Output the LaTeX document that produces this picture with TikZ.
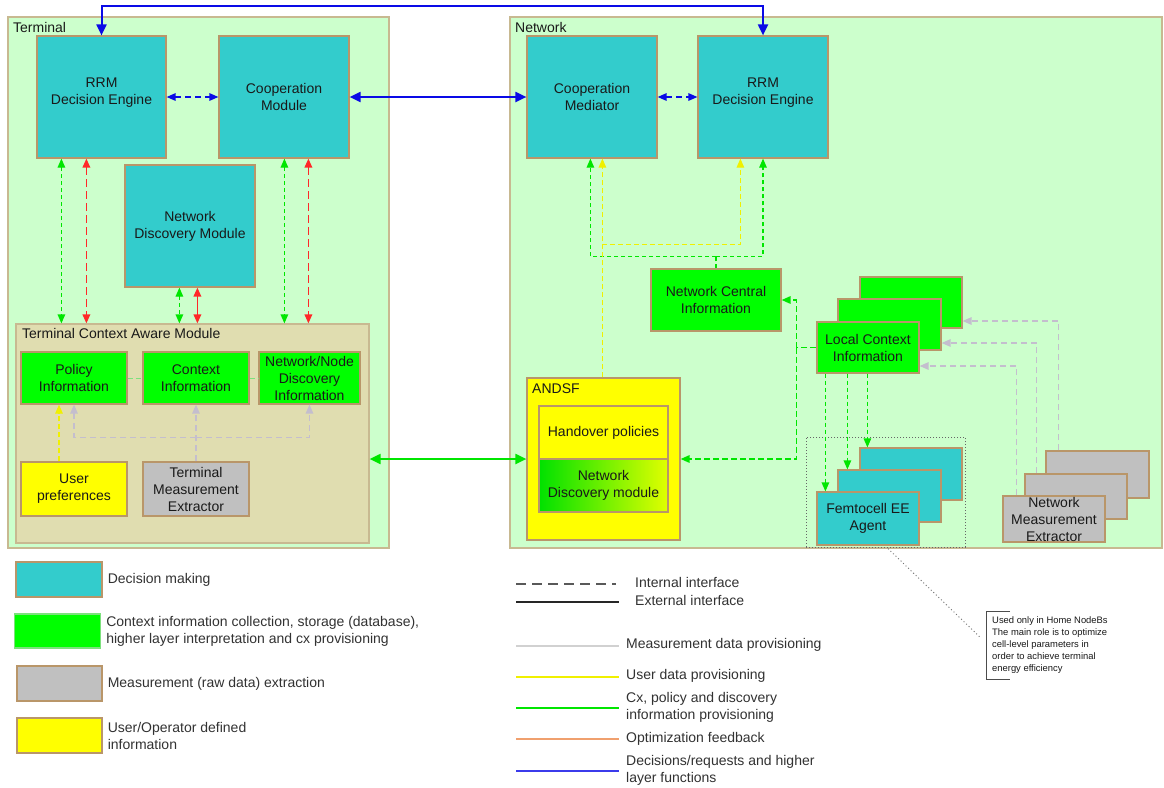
\documentclass[tikz,border=0pt]{standalone}
\usepackage{fontspec}
\setmainfont{Liberation Sans}
\usetikzlibrary{arrows.meta,calc}

\definecolor{dmcyan}{RGB}{51,204,204}
\definecolor{cxgreen}{RGB}{0,255,0}
\definecolor{msgray}{RGB}{192,192,192}
\definecolor{uyellow}{RGB}{255,255,0}
\definecolor{zonebg}{RGB}{204,255,204}
\definecolor{tcamfill}{RGB}{224,221,176}
\definecolor{edgetan}{RGB}{185,150,105}
\definecolor{zoneedge}{RGB}{200,185,145}
\definecolor{txt}{RGB}{25,25,25}
\definecolor{legtxt}{RGB}{50,50,50}
\definecolor{lblue}{RGB}{10,10,230}
\definecolor{lred}{RGB}{255,40,40}
\definecolor{lgreen}{RGB}{0,230,0}
\definecolor{lgreenpale}{RGB}{125,225,125}
\definecolor{lyellow}{RGB}{240,240,0}
\definecolor{lgray}{RGB}{196,190,206}
\definecolor{lorange}{RGB}{240,160,110}

\tikzset{
  fnt/.style={font=\fontsize{14}{17}\selectfont},
  zone/.style={draw=zoneedge, line width=1.2pt, fill=zonebg, inner sep=0pt},
  blk/.style={draw=edgetan, line width=1.2pt, align=center, inner sep=0pt, fnt, text=txt},
  dmblk/.style={blk, fill=dmcyan},
  cxblk/.style={blk, fill=cxgreen},
  msblk/.style={blk, fill=msgray},
  usblk/.style={blk, fill=uyellow},
  tag/.style={anchor=west, inner sep=0pt, fnt, text=txt, align=left},
  legtag/.style={tag, text=legtxt},
  fwd/.style={arrows={-Triangle[length=9pt,width=7.5pt]}},
  dbl/.style={arrows={Triangle[length=9pt,width=7.5pt]-Triangle[length=9pt,width=7.5pt]}},
  bigdbl/.style={arrows={Triangle[length=11pt,width=10pt]-Triangle[length=11pt,width=10pt]}},
  bsolid/.style={draw=lblue, line width=2pt},
  bdash/.style={draw=lblue, line width=1.3pt, dash pattern=on 6pt off 4pt},
  gdash/.style={draw=lgreen, line width=1.2pt, dash pattern=on 4pt off 3pt},
  gdashb/.style={draw=lgreen, line width=1.6pt, dash pattern=on 6pt off 3pt},
  pgdash/.style={draw=lgreenpale, line width=1pt, dash pattern=on 5pt off 3pt},
  rdash/.style={draw=lred, line width=1.8pt, dash pattern=on 8pt off 4pt},
  rsolid/.style={draw=lred, line width=1.8pt},
  ydash/.style={draw=lyellow, line width=1.2pt, dash pattern=on 5pt off 3pt},
  gydash/.style={draw=lgray, line width=1.3pt, dash pattern=on 6pt off 4pt},
  gsolid/.style={draw=lgreen, line width=2pt},
}

\begin{document}
\begin{tikzpicture}[x=1pt,y=-1pt]
\fill[white] (0,0) rectangle (1164,787);
\useasboundingbox (0,0) rectangle (1164,787);

% ---------------- Terminal side ----------------
\node[zone, minimum width=381pt, minimum height=531pt] (term) at (198.5,282.5) {};
\node[tag] at (13,27) {Terminal};

\node[dmblk, minimum width=129pt, minimum height=122pt] (trrm) at (101.5,97) {RRM\\Decision Engine\\[-6pt]\mbox{}};
\node[dmblk, minimum width=130pt, minimum height=122pt] (tcoop) at (284,97) {Cooperation\\Module};
\node[dmblk, minimum width=130pt, minimum height=122pt] (tndm) at (190,226) {Network\\Discovery Module};

\node[draw=zoneedge, line width=1.2pt, fill=tcamfill, minimum width=353pt, minimum height=219pt] (tcam) at (192.5,433.5) {};
\node[tag] at (22,333) {Terminal Context Aware Module};

\node[cxblk, minimum width=106pt, minimum height=52pt] (pol) at (74,378) {Policy\\Information};
\node[cxblk, minimum width=106pt, minimum height=52pt] (ctxi) at (196,378) {Context\\Information};
\node[cxblk, minimum width=101pt, minimum height=52pt] (nnd) at (309.5,378) {Network/Node\\Discovery\\Information};
\node[usblk, minimum width=106pt, minimum height=54pt] (upref) at (74,489) {User\\preferences};
\node[msblk, minimum width=106pt, minimum height=54pt] (tme) at (196,489) {Terminal\\Measurement\\Extractor};

% ---------------- Network side ----------------
\node[zone, minimum width=652pt, minimum height=531pt] (net) at (836,282.5) {};
\node[tag] at (515,27) {Network};

\node[dmblk, minimum width=130pt, minimum height=122pt] (cm) at (592,97) {Cooperation\\Mediator};
\node[dmblk, minimum width=130pt, minimum height=122pt] (nrrm) at (763,97) {RRM\\Decision Engine\\[-6pt]\mbox{}};
\node[cxblk, minimum width=130pt, minimum height=62pt] (nci) at (716,300) {Network Central\\Information};

\node[cxblk, minimum width=102pt, minimum height=51pt] (lci3) at (911,302.5) {};
\node[cxblk, minimum width=103pt, minimum height=51pt] (lci2) at (889.5,324.5) {};
\node[cxblk, minimum width=102pt, minimum height=51pt] (lci1) at (868,347.5) {Local Context\\Information};

\node[usblk, minimum width=153pt, minimum height=162pt] (andsf) at (603.5,459) {};
\node[tag] at (532,389) {ANDSF};
\node[usblk, minimum width=129pt, minimum height=53pt] (ho) at (603.5,432.5) {Handover policies};
\node[blk, left color={rgb,255:red,0;green,225;blue,0}, right color={rgb,255:red,225;green,255;blue,0}, minimum width=129pt, minimum height=53pt] (ndmod) at (603.5,485.5) {Network\\Discovery module};

\node[draw=black!60, line width=0.9pt, dash pattern=on 1pt off 2pt, minimum width=159pt, minimum height=110pt] (femzone) at (885.5,492) {};
\node[dmblk, minimum width=102pt, minimum height=52pt] (fem3) at (911,474) {};
\node[dmblk, minimum width=103pt, minimum height=52pt] (fem2) at (889.5,496) {};
\node[dmblk, minimum width=102pt, minimum height=53pt] (fem1) at (868,518.5) {Femtocell EE\\Agent};

\node[msblk, minimum width=103pt, minimum height=47pt] (nme3) at (1097.5,474.5) {};
\node[msblk, minimum width=102pt, minimum height=45pt] (nme2) at (1076,496.5) {};
\node[msblk, minimum width=102pt, minimum height=46pt] (nme1) at (1054,519) {};
\node[blk, draw=none, fill=none] at (nme1.center) {Network\\Measurement\\Extractor};

% ---------------- Terminal interfaces ----------------
\coordinate (tg1) at ([xshift=25pt]trrm.south west);
\coordinate (tr1) at ([xshift=50pt]trrm.south west);
\coordinate (tg2) at ([xshift=55pt]tndm.south west);
\coordinate (tr2) at ([xshift=73pt]tndm.south west);
\coordinate (tg3) at ([xshift=66pt]tcoop.south west);
\coordinate (tr3) at ([xshift=90pt]tcoop.south west);
\draw[gdash, dbl] (tg1) -- (tg1 |- tcam.north);
\draw[rdash, dbl] (tr1) -- (tr1 |- tcam.north);
\draw[gdash, dbl] (tg2) -- (tg2 |- tcam.north);
\draw[rsolid, dbl] (tr2) -- (tr2 |- tcam.north);
\draw[gdash, dbl] (tg3) -- (tg3 |- tcam.north);
\draw[rdash, dbl] (tr3) -- (tr3 |- tcam.north);

\draw[bdash, dbl] (trrm.east) -- (tcoop.west);
\draw[bsolid, bigdbl] (tcoop.east) -- (cm.west);
\draw[bsolid, bigdbl] (trrm.north) -- ++(0,-29) -| (nrrm.north);
\draw[bdash, dbl] (cm.east) -- (nrrm.west);

% inside the context aware module
\draw[pgdash] (pol.east) -- (ctxi.west);
\draw[pgdash] (ctxi.east) -- (nnd.west);
\coordinate (uy) at ([xshift=-15pt]pol.south);
\draw[ydash, fwd] (uy |- upref.north) -- (uy);
\draw[gydash, fwd] (tme.north) -- (ctxi.south);
\coordinate (gj) at ([yshift=24pt]tme.north);
\draw[gydash, fwd] (gj) -| (pol.south);
\draw[gydash, fwd] (gj) -| (nnd.south);

% terminal <-> ANDSF
\draw[gsolid, bigdbl] (andsf.west -| tcam.east) -- (andsf.west);

% ---------------- Network interfaces ----------------
\coordinate (cmg) at ([xshift=64pt]cm.south west);
\coordinate (cmy) at ([xshift=76pt]cm.south west);
\coordinate (rry) at ([xshift=43pt]nrrm.south west);
\coordinate (nj) at ([yshift=12pt]nci.north);
\draw[gdash] (nci.north) -- (nj);
\draw[gdash, fwd] (nj) -| (cmg);
\draw[gdash, fwd] (nj) -| (nrrm.south);
\draw[ydash, fwd] (andsf.north -| cmy) -- (cmy);
\coordinate (yj) at ([yshift=-86pt]cmy);
\draw[ydash, fwd] (yj) -| (rry);

\coordinate (lj) at ([xshift=-20pt]lci1.west);
\draw[gdashb] (lci1.west) -- (lj);
\draw[gdashb, fwd] (lj) |- (nci.east);
\draw[gdashb, fwd] (lj) |- (andsf.east);

\coordinate (lf1) at ([xshift=9pt]lci1.south west);
\coordinate (lf2) at ([xshift=31pt]lci1.south west);
\coordinate (lf3) at ([xshift=51pt]lci1.south west);
\draw[gdash, fwd] (lf1) -- (lf1 |- fem1.north);
\draw[gdash, fwd] (lf2) -- (lf2 |- fem2.north);
\draw[gdash, fwd] (lf3) -- (lf3 |- fem3.north);

\coordinate (mg1) at ([yshift=-18.5pt]lci1.east);
\coordinate (mg2) at ([yshift=-18.5pt]lci2.east);
\coordinate (mg3) at ([yshift=-18.5pt]lci3.east);
\coordinate (ng1) at ([xshift=14pt]nme1.north west);
\coordinate (ng2) at ([xshift=12pt]nme2.north west);
\coordinate (ng3) at ([xshift=13pt]nme3.north west);
\draw[gydash, fwd] (ng1) |- (mg1);
\draw[gydash, fwd] (ng2) |- (mg2);
\draw[gydash, fwd] (ng3) |- (mg3);

% ---------------- Femtocell note ----------------
\node[anchor=north west, align=left, inner xsep=6pt, inner ysep=5.5pt, text=txt,
      font=\fontsize{9.4}{12}\selectfont] (note) at (986,611)
  {Used only in Home NodeBs\\The main role is to optimize\\cell-level parameters in\\order to achieve terminal\\energy efficiency};
\draw[black!70, line width=0.8pt] ([xshift=24pt]note.north west) -- (note.north west) -- (note.south west) -- ([xshift=24pt]note.south west);
\draw[black!55, line width=0.9pt, dash pattern=on 1pt off 2.5pt] ([xshift=20pt,yshift=-3pt]fem1.south) -- ([xshift=-5pt,yshift=7pt]note.west);

% ---------------- Legend: block kinds ----------------
\node[dmblk, minimum width=86pt, minimum height=35pt] (lk1) at (59,579.5) {};
\node[legtag] at ([xshift=5pt]lk1.east) {Decision making};
\node[cxblk, draw=lgreenpale, minimum width=86pt, minimum height=34pt] (lk2) at (57.5,631) {};
\node[legtag] at ([xshift=5pt]lk2.east) {Context information collection, storage (database),\\higher layer interpretation and cx provisioning};
\node[msblk, minimum width=85pt, minimum height=35pt] (lk3) at (59.5,683.5) {};
\node[legtag] at ([xshift=5pt]lk3.east) {Measurement (raw data) extraction};
\node[usblk, minimum width=85pt, minimum height=35pt] (lk4) at (59.5,735.5) {};
\node[legtag] at ([xshift=5pt]lk4.east) {User/Operator defined\\information};

% ---------------- Legend: line kinds ----------------
\draw[black!65, line width=1.6pt, dash pattern=on 10pt off 6pt] (516,584) -- (616,584);
\node[legtag] at (635,582) {Internal interface};
\draw[black!85, line width=1.6pt] (516,602) -- (619,602);
\node[legtag] at (635,600) {External interface};
\draw[black!18, line width=2pt] (516,646) -- (619,646);
\node[legtag] at (626,645) {Measurement data provisioning};
\draw[lyellow, line width=2pt] (516,677) -- (619,677);
\node[legtag] at (626,676) {User data provisioning};
\draw[lgreen, line width=2pt] (516,708) -- (619,708);
\node[legtag] at (626,707) {Cx, policy and discovery\\information provisioning};
\draw[lorange, line width=2pt] (516,739) -- (619,739);
\node[legtag] at (626,739) {Optimization feedback};
\draw[lblue!80, line width=2pt] (516,771) -- (619,771);
\node[legtag] at (626,770) {Decisions/requests and higher\\layer functions};
\end{tikzpicture}
\end{document}
